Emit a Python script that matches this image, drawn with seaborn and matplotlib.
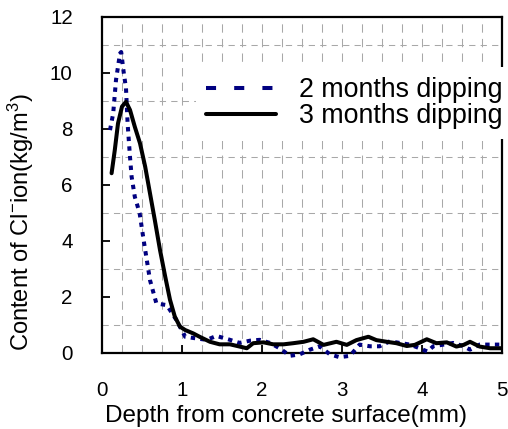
import matplotlib
matplotlib.use("Agg")
import matplotlib.pyplot as plt
from matplotlib.lines import Line2D
import seaborn as sns
import pandas as pd

# ---- data ----
depth_2m = [0.10, 0.14, 0.175, 0.225, 0.24, 0.27, 0.30, 0.32, 0.35, 0.37,
            0.41, 0.47, 0.52, 0.56, 0.60, 0.68, 0.81, 0.93, 1.04, 1.18,
            1.31, 1.43, 1.60, 1.72, 1.85, 1.97, 2.10, 2.22, 2.35, 2.47,
            2.60, 2.72, 2.85, 2.97, 3.10, 3.22, 3.35, 3.47, 3.60, 3.72,
            3.85, 3.97, 4.07, 4.14, 4.27, 4.39, 4.52, 4.60, 4.72, 4.85, 5.00]
cl_2m = [7.96, 8.56, 9.75, 10.70, 10.75, 10.05, 9.45, 8.20, 7.00, 6.30,
         5.58, 5.00, 4.04, 3.32, 2.60, 1.77, 1.71, 1.18, 0.58, 0.52,
         0.47, 0.61, 0.47, 0.36, 0.44, 0.47, 0.36, 0.17, -0.10, -0.05,
         0.12, 0.24, -0.05, -0.15, -0.10, 0.30, 0.24, 0.24, 0.42, 0.36,
         0.30, 0.17, 0.05, 0.24, 0.30, 0.36, 0.24, 0.12, 0.30, 0.30, 0.30]

depth_3m = [0.12, 0.16, 0.20, 0.25, 0.30, 0.35, 0.41, 0.475, 0.54, 0.60,
            0.66, 0.725, 0.79, 0.85, 0.91, 0.975, 1.04, 1.14, 1.22, 1.35,
            1.47, 1.60, 1.72, 1.81, 1.89, 2.02, 2.14, 2.27, 2.39, 2.52,
            2.64, 2.77, 2.93, 3.06, 3.18, 3.33, 3.43, 3.56, 3.68, 3.81,
            3.91, 4.06, 4.18, 4.31, 4.43, 4.52, 4.60, 4.72, 4.85, 5.00]
cl_3m = [6.42, 7.25, 8.20, 8.80, 8.97, 8.68, 8.08, 7.49, 6.65, 5.70,
         4.75, 3.68, 2.73, 1.90, 1.30, 0.94, 0.82, 0.70, 0.58, 0.40,
         0.31, 0.31, 0.23, 0.17, 0.35, 0.38, 0.31, 0.31, 0.35, 0.40,
         0.49, 0.29, 0.40, 0.29, 0.46, 0.58, 0.46, 0.40, 0.35, 0.25,
         0.29, 0.49, 0.35, 0.38, 0.23, 0.29, 0.40, 0.23, 0.17, 0.17]

series_labels = ["2 months dipping", "3 months dipping"]
x_ticks = [0, 1, 2, 3, 4, 5]
y_ticks = [0, 2, 4, 6, 8, 10, 12]
x_label = "Depth from concrete surface(mm)"
y_label = r"Content of Cl$^{-}$ion(kg/m$^{3}$)"

# ---- style ----
sns.set_style("ticks")
plt.rcParams["font.family"] = ["Liberation Sans", "DejaVu Sans"]
plt.rcParams["mathtext.fontset"] = "custom"
plt.rcParams["mathtext.rm"] = "Liberation Sans"
plt.rcParams["mathtext.it"] = "Liberation Sans"
plt.rcParams["mathtext.default"] = "regular"
for key in ["text.color", "axes.labelcolor", "xtick.color", "ytick.color"]:
    plt.rcParams[key] = "black"

fig = plt.figure(figsize=(5.08, 4.29), dpi=100)
ax = fig.add_axes([102 / 508, 1 - 353 / 429, 400 / 508, 336 / 429])

df2 = pd.DataFrame({"depth": depth_2m, "cl": cl_2m})
df3 = pd.DataFrame({"depth": depth_3m, "cl": cl_3m})

navy = "#000080"
sns.lineplot(data=df2, x="depth", y="cl", ax=ax, color=navy, lw=2.9,
             linestyle=(0, (1.1, 1.3)), dash_capstyle="butt",
             estimator=None, sort=False, clip_on=False, zorder=3)
sns.lineplot(data=df3, x="depth", y="cl", ax=ax, color="black", lw=2.9,
             estimator=None, sort=False, zorder=4)

ax.set_xlim(0, 5)
ax.set_ylim(0, 12)
ax.set_xticks(x_ticks)
ax.set_yticks(y_ticks)
ax.set_xticks([i * 0.25 for i in range(21)], minor=True)
ax.set_yticks(list(range(13)), minor=True)

ax.grid(which="both", axis="x", color="#a8a8a8", lw=0.75,
        linestyle=(0, (8, 6)))
ax.grid(which="minor", axis="y", color="#a8a8a8", lw=0.75,
        linestyle=(0, (6, 5)))
ax.grid(which="major", axis="y", visible=False)
ax.set_axisbelow(True)

ax.tick_params(axis="both", which="major", direction="in", length=6,
               width=1.3, labelsize=14.8, top=False, right=False)
ax.tick_params(axis="y", which="major", pad=21)
ax.tick_params(axis="x", which="major", pad=20)
ax.tick_params(axis="both", which="minor", length=0)
for s in ax.spines.values():
    s.set_linewidth(1.6)
    s.set_color("black")

ax.set_xlabel(x_label, fontsize=17.5)
ax.set_ylabel(y_label, fontsize=17)
ax.yaxis.set_label_coords(-0.165, 0.39)
ax.xaxis.set_label_coords(0.46, -0.155)

handles = [
    Line2D([], [], color=navy, lw=2.9, linestyle=(0, (2.5, 4.5))),
    Line2D([], [], color="black", lw=2.9),
]
leg = ax.legend(handles, series_labels, loc="upper left",
                bbox_to_anchor=(196 / 508, 1 - 67 / 429),
                bbox_transform=fig.transFigure, borderaxespad=0,
                fontsize=19.3, frameon=True, facecolor="white",
                edgecolor="none", framealpha=1, fancybox=False,
                handlelength=2.6, handletextpad=0.85, labelspacing=0.0,
                borderpad=0.38)
leg.set_zorder(10)

fig.savefig("out.png", dpi=100)
